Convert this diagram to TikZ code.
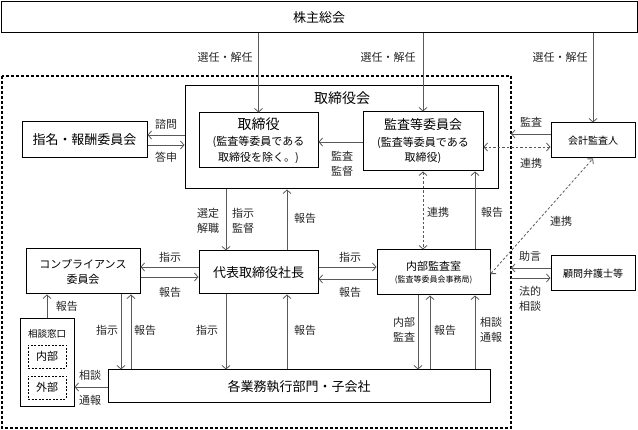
\documentclass[tikz,border=0pt]{standalone}
\usepackage{fontspec}
\setmainfont{Noto Sans CJK JP}
\usetikzlibrary{arrows.meta}
\begin{document}
\begin{tikzpicture}[x=1pt,y=-1pt,
  box/.style={draw=black,line width=1pt,inner sep=0pt,align=center,fill=white},
  arr/.style={draw=black!65,line width=0.8pt,-{Straight Barb[length=3.5pt,width=8pt]}},
  darr/.style={draw=black!65,line width=0.8pt,dash pattern=on 2.5pt off 2pt,{Straight Barb[length=3.5pt,width=8pt]}-{Straight Barb[length=3.5pt,width=8pt]}},
  lbl/.style={font=\fontsize{11}{15}\selectfont,text=black!85,align=center,inner sep=0pt},
  dbox/.style={draw=black,line width=0.8pt,dash pattern=on 2pt off 1.5pt,inner sep=0pt,align=center}]
\useasboundingbox (0,0) rectangle (638,430);
% outer dashed boundary
\draw[line width=1.1pt,dash pattern=on 3pt off 2pt] (2,76) rectangle (511,428);
% boxes
\node[box,minimum width=636,minimum height=31,font=\fontsize{13}{15}\selectfont] (sh) at (319,17.5) {株主総会};
\node[box,minimum width=313,minimum height=103] (bod) at (341.5,137.5) {};
\node[font=\fontsize{14}{16}\selectfont,inner sep=0pt] (bodt) at (342,98) {取締役会};
\node[box,minimum width=119,minimum height=55,font=\fontsize{11}{15.5}\selectfont] (dir) at (258.5,140.5) {{\fontsize{14}{16}\selectfont 取締役}\\[1pt](監査等委員である\\取締役を除く。)};
\node[box,minimum width=120,minimum height=59,font=\fontsize{11}{15.5}\selectfont] (ac) at (423,141.5) {{\fontsize{13}{16}\selectfont 監査等委員会}\\[1pt](監査等委員である\\取締役)};
\node[box,minimum width=125,minimum height=36,font=\fontsize{13}{15}\selectfont] (nom) at (84.5,140) {指名・報酬委員会};
\node[box,minimum width=84,minimum height=35,font=\fontsize{10}{12}\selectfont] (aud) at (593,140.5) {会計監査人};
\node[box,minimum width=119,minimum height=43,font=\fontsize{13}{15}\selectfont] (pres) at (258.5,272.5) {代表取締役社長};
\node[box,minimum width=114,minimum height=45,font=\fontsize{11}{15}\selectfont] (comp) at (83,271.5) {コンプライアンス\\委員会};
\node[box,minimum width=113,minimum height=45,font=\fontsize{8}{12}\selectfont] (ia) at (433.5,272.5) {{\fontsize{11}{14}\selectfont 内部監査室}\\(監査等委員会事務局)};
\node[box,minimum width=84,minimum height=35,font=\fontsize{10}{12}\selectfont] (law) at (593,273.5) {顧問弁護士等};
\node[box,minimum width=54,minimum height=88] (desk) at (47,363) {};
\node[font=\fontsize{9.5}{11}\selectfont,inner sep=0pt] (deskt) at (47,334) {相談窓口};
\node[dbox,minimum width=38,minimum height=23,font=\fontsize{11}{13}\selectfont] (inn) at (47,356.5) {内部};
\node[dbox,minimum width=38,minimum height=23,font=\fontsize{11}{13}\selectfont] (out) at (47,387.5) {外部};
\node[box,minimum width=382,minimum height=33,font=\fontsize{13}{15}\selectfont] (biz) at (299,386.5) {各業務執行部門・子会社};
% boundary coordinates
\coordinate (b1) at (511,134);
\coordinate (b2) at (511,268);
\coordinate (b3) at (511,278);
% shareholders
\draw[arr] (sh.south -| dir.north) -- (dir.north);
\node[lbl] at (225,57) {選任・解任};
\draw[arr] (sh.south -| ac.north) -- (ac.north);
\node[lbl] at (388,57) {選任・解任};
\draw[arr] (sh.south -| aud.north) -- (aud.north);
\node[lbl] at (560,57) {選任・解任};
% nomination
\draw[arr] (bod.west |- 0,135) -- (nom.east |- 0,135);
\node[lbl] at (166,124) {諮問};
\draw[arr] (nom.east |- 0,145) -- (bod.west |- 0,145);
\node[lbl] at (166,157) {答申};
% audit committee -> directors
\draw[arr] (ac.west |- 0,142) -- (dir.east |- 0,142);
\node[lbl] at (342,164) {監査\\監督};
% accounting auditor
\draw[arr] (aud.west |- 0,134) -- (b1);
\node[lbl] at (531,122) {監査};
\draw[darr] (ac.east |- 0,147) -- (aud.west |- 0,147);
\node[lbl] at (531,163) {連携};
% board -> president
\draw[arr] (bod.south -| 226,0) -- (pres.north -| 226,0);
\node[lbl] at (208,221) {選定\\解職};
\node[lbl] at (243,221) {指示\\監督};
\draw[arr] (pres.north -| 287,0) -- (bod.south -| 287,0);
\node[lbl] at (305,218) {報告};
% audit committee <-> internal audit
\draw[darr] (ac.south) -- (ia.north -| ac.south);
\node[lbl] at (438,212) {連携};
\draw[arr] (ia.north -| 475,0) -- (ac.south -| 475,0);
\node[lbl] at (492,212) {報告};
\draw[darr] (ia.east |- 0,274) -- (aud.south);
\node[lbl] at (561,221) {連携};
% lawyer
\draw[arr] (law.west |- 0,268) -- (b2);
\node[lbl] at (530,256) {助言};
\draw[arr] (b3) -- (law.west |- 0,278);
\node[lbl] at (530,299) {法的\\相談};
% president <-> compliance
\draw[arr] (pres.west |- 0,267) -- (comp.east |- 0,267);
\node[lbl] at (170,257) {指示};
\draw[arr] (comp.east |- 0,277) -- (pres.west |- 0,277);
\node[lbl] at (170,292) {報告};
% president <-> internal audit
\draw[arr] (pres.east |- 0,267) -- (ia.west |- 0,267);
\node[lbl] at (350,257) {指示};
\draw[arr] (ia.west |- 0,279) -- (pres.east |- 0,279);
\node[lbl] at (350,292) {報告};
% desk -> compliance
\draw[arr] (desk.north) -- (comp.south -| desk.north);
\node[lbl] at (67,306) {報告};
% compliance <-> business
\draw[arr] (comp.south -| 121,0) -- (biz.north -| 121,0);
\node[lbl] at (107,330) {指示};
\draw[arr] (biz.north -| 131,0) -- (comp.south -| 131,0);
\node[lbl] at (145,330) {報告};
% business -> desk
\draw[arr] (biz.west |- 0,387) -- (desk.east |- 0,387);
\node[lbl] at (90,375) {相談};
\node[lbl] at (90,400) {通報};
% president <-> business
\draw[arr] (pres.south -| 226,0) -- (biz.north -| 226,0);
\node[lbl] at (207,330) {指示};
\draw[arr] (biz.north -| 287,0) -- (pres.south -| 287,0);
\node[lbl] at (305,330) {報告};
% internal audit <-> business
\draw[arr] (ia.south -| 418,0) -- (biz.north -| 418,0);
\node[lbl] at (404,330) {内部\\監査};
\draw[arr] (biz.north -| 430,0) -- (ia.south -| 430,0);
\node[lbl] at (445,330) {報告};
\draw[arr] (biz.north -| 475,0) -- (ia.south -| 475,0);
\node[lbl] at (491,330) {相談\\通報};
\end{tikzpicture}
\end{document}
